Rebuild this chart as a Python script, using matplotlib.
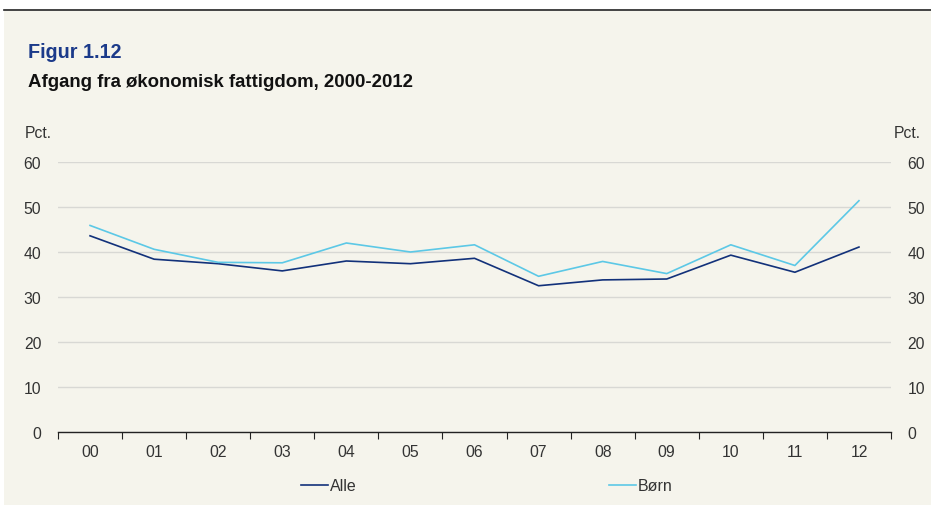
import numpy as np
import matplotlib.pyplot as plt
from matplotlib.patches import Rectangle
from matplotlib.lines import Line2D

plt.rcParams['font.family'] = ['Liberation Sans', 'DejaVu Sans']

# data
years = ['00', '01', '02', '03', '04', '05', '06', '07', '08', '09', '10', '11', '12']
alle = [43.6, 38.4, 37.4, 35.8, 38.0, 37.4, 38.6, 32.5, 33.8, 34.0, 39.3, 35.5, 41.1]
boern = [45.9, 40.6, 37.7, 37.6, 42.0, 40.0, 41.6, 34.6, 37.9, 35.2, 41.6, 37.0, 51.4]
yticks = [0, 10, 20, 30, 40, 50, 60]

bg = '#F5F4EC'
navy = '#12317A'
cyan = '#5CC8E6'
txt = '#333333'
fs = 11.3

W, H = 931, 506
fig = plt.figure(figsize=(W / 100, H / 100), dpi=100)
fig.patch.set_facecolor('white')

# beige panel and top rule
fig.patches.append(Rectangle((4 / W, 0), 1, 1 - 12 / H, transform=fig.transFigure,
                             facecolor=bg, edgecolor='none', zorder=-5))
fig.add_artist(Line2D([4 / W, 1], [1 - 11 / H, 1 - 11 / H], transform=fig.transFigure,
                      color='#222222', lw=1.2, zorder=-4))

fig.text(28 / W, 1 - 52 / H, 'Figur 1.12', color='#1B3A8A', fontsize=14.2,
         fontweight='bold', va='center', ha='left')
fig.text(28 / W, 1 - 83 / H, 'Afgang fra økonomisk fattigdom, 2000-2012', color='#111111',
         fontsize=13.4, fontweight='bold', va='center', ha='left')

left, right = 58 / W, 891 / W
bottom, top = 1 - 433 / H, 1 - 163 / H
ax = fig.add_axes([left, bottom, right - left, top - bottom])
ax.set_facecolor('none')

x = np.arange(len(years))
ax.plot(x, alle, color=navy, lw=1.2, label='Alle', zorder=3)
ax.plot(x, boern, color=cyan, lw=1.2, label='Børn', zorder=3)

ax.set_xlim(-0.5, len(years) - 0.5)
ax.set_ylim(0, 60)
ax.set_yticks(yticks)
ax.yaxis.grid(True, color='#D8D8D4', lw=1)
ax.set_axisbelow(True)
for s in ['top', 'left', 'right']:
    ax.spines[s].set_visible(False)
ax.spines['bottom'].set_color('#222222')
ax.spines['bottom'].set_linewidth(1)
ax.tick_params(axis='y', length=0, labelsize=fs, labelcolor=txt, pad=12,
               labelleft=True, labelright=True)

ax.set_xticks(np.arange(-0.5, len(years), 1))
ax.set_xticklabels([])
ax.set_xticks(x, minor=True)
ax.set_xticklabels(years, minor=True)
ax.tick_params(axis='x', which='major', length=5, direction='out', color='#222222')
ax.tick_params(axis='x', which='minor', length=0, pad=9, labelsize=fs, labelcolor=txt)

fig.text(25 / W, 1 - 133 / H, 'Pct.', fontsize=fs, color=txt, va='center', ha='left')
fig.text(921 / W, 1 - 133 / H, 'Pct.', fontsize=fs, color=txt, va='center', ha='right')

leg = fig.legend(loc='center', bbox_to_anchor=(487 / W, 1 - 487 / H), ncol=2,
                 frameon=False, fontsize=11.5, handlelength=1.65, handletextpad=0.15,
                 columnspacing=15.8, labelcolor=txt)

fig.savefig('out.png', dpi=100)
